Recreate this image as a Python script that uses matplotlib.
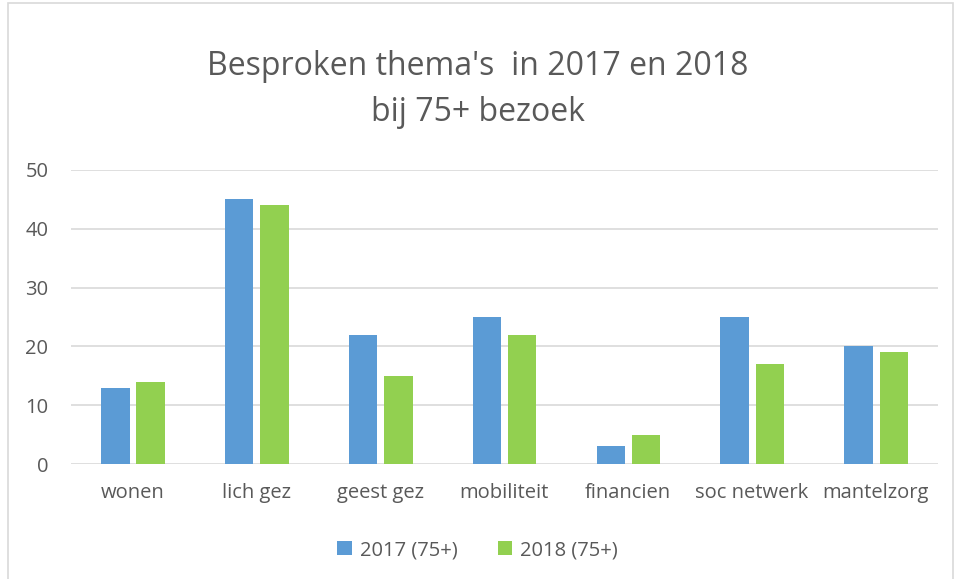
import matplotlib.pyplot as plt
import numpy as np

categories = ['wonen', 'lich gez', 'geest gez', 'mobiliteit', 'financien', 'soc netwerk', 'mantelzorg']
vals_2017 = [13, 45, 22, 25, 3, 25, 20]
vals_2018 = [14, 44, 15, 22, 5, 17, 19]
series_labels = ['2017 (75+)', '2018 (75+)']
yticks = [0, 10, 20, 30, 40, 50]

plt.rcParams['font.family'] = ['Open Sans', 'DejaVu Sans']
txt = '#595959'

fig = plt.figure(figsize=(9.55, 5.79), dpi=100)
ax = fig.add_axes([0.074, 0.1986, 0.908, 0.5078])

x = np.arange(len(categories))
w = 0.23
ax.bar(x - 0.14, vals_2017, w, color='#5B9BD5', label=series_labels[0], zorder=3)
ax.bar(x + 0.145, vals_2018, w, color='#92D050', label=series_labels[1], zorder=3)

ax.set_xlim(-0.5, len(categories) - 0.5)
ax.set_ylim(0, 50)
ax.set_yticks(yticks)
ax.set_xticks(x)
ax.set_xticklabels(categories)
ax.grid(axis='y', color='#D9D9D9', linewidth=1.2, zorder=0)
for s in ax.spines.values():
    s.set_visible(False)
ax.tick_params(axis='both', length=0, labelsize=14.5, colors=txt, pad=14)
ax.tick_params(axis='y', pad=16)

fig.text(0.5, 0.885, "Besproken thema's  in 2017 en 2018", ha='center', va='center',
         fontsize=23, color=txt)
fig.text(0.5, 0.805, 'bij 75+ bezoek', ha='center', va='center', fontsize=23, color=txt)

fig.legend(loc='center', bbox_to_anchor=(0.5, 0.05), ncol=2, frameon=False,
           fontsize=14.5, labelcolor=txt, handlelength=0.7, handleheight=0.7,
           handletextpad=0.4, columnspacing=2.0)

border = plt.Rectangle((0.008, -0.01), 0.99, 1.005, transform=fig.transFigure,
                       fill=False, edgecolor='#D9D9D9', linewidth=1.2)
fig.patches.append(border)

fig.savefig('out.png', dpi=100)
